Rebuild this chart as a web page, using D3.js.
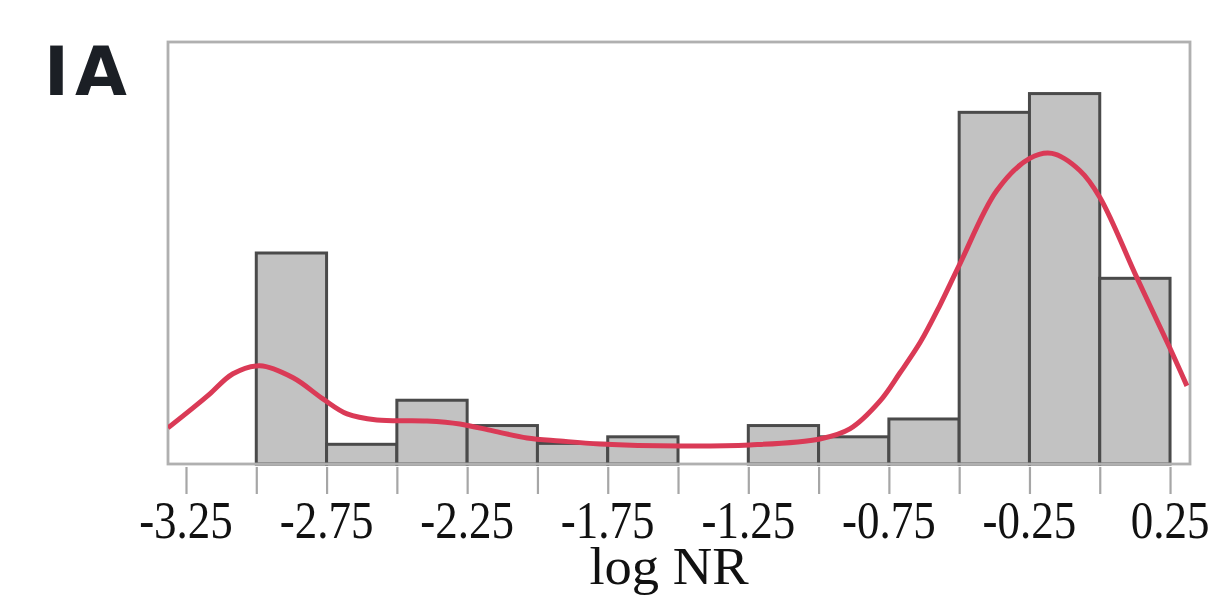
<!DOCTYPE html>
<html>
<head>
<meta charset="utf-8">
<script src="https://cdn.jsdelivr.net/npm/d3@7"></script>
<style>
  html, body { margin: 0; padding: 0; background: #fff; }
  svg { display: block; }
</style>
</head>
<body>
<svg id="chart" width="1217" height="598"></svg>
<script>
// Histogram bins (left edge of each 0.25-wide bin) and heights (relative frequency units)
const binStarts = [-3.0, -2.75, -2.5, -2.25, -2.0, -1.75, -1.5, -1.25, -1.0, -0.75, -0.5, -0.25, 0.0];
const binCounts = [22.5, 2.1, 6.8, 4.1, 2.2, 2.9, 0, 4.1, 2.9, 4.8, 37.5, 39.5, 19.8];
const binWidth = 0.25;

// Density curve (x in log NR, y in same units as bars)
const densityX = [-3.314, -3.225, -3.165, -3.083, -2.987, -2.869, -2.763, -2.677, -2.571, -2.393, -2.276, -2.158, -2.037, -1.920, -1.778, -1.493, -1.244, -0.995, -0.889, -0.782, -0.711, -0.638, -0.569, -0.497, -0.366, -0.249, -0.170, -0.071, 0.0005, 0.132, 0.249, 0.310];
const densityY = [3.85, 5.98, 7.48, 9.62, 10.47, 9.19, 6.94, 5.34, 4.70, 4.59, 4.27, 3.53, 2.78, 2.46, 2.14, 1.92, 2.03, 2.67, 3.74, 6.7, 9.7, 13.0, 16.9, 21.37, 29.17, 32.59, 33.12, 31.30, 28.42, 19.87, 12.39, 8.33];

const tickValues = [-3.25, -3.0, -2.75, -2.5, -2.25, -2.0, -1.75, -1.5, -1.25, -1.0, -0.75, -0.5, -0.25, 0.0, 0.25];
const tickLabels = ["-3.25", "-2.75", "-2.25", "-1.75", "-1.25", "-0.75", "-0.25", "0.25"];
const labelValues = [-3.25, -2.75, -2.25, -1.75, -1.25, -0.75, -0.25, 0.25];
const xTitle = "log NR";
const panelLabel = "IA";

const svg = d3.select("#chart");
const pLeft = 168, pRight = 1190, pTop = 42, pBottom = 464;

const x = d3.scaleLinear().domain([-3.314, 0.321]).range([pLeft, pRight]);
const y = d3.scaleLinear().domain([0, 45]).range([pBottom, pTop]);

// Panel label
svg.append("text")
  .attr("x", 44).attr("y", 95)
  .attr("font-family", "DejaVu Sans, sans-serif")
  .attr("font-weight", "bold")
  .attr("font-size", 67)
  .attr("letter-spacing", 6)
  .attr("fill", "#1b1f25")
  .text(panelLabel);

svg.append("clipPath").attr("id", "plotclip")
  .append("rect").attr("x", pLeft).attr("y", pTop).attr("width", pRight - pLeft).attr("height", pBottom - pTop);

// Bars
const bars = binStarts.map((s, i) => ({ x0: s, x1: s + binWidth, v: binCounts[i] })).filter(d => d.v > 0);
svg.append("g").selectAll("rect").data(bars).join("rect")
  .attr("x", d => x(d.x0))
  .attr("y", d => y(d.v))
  .attr("width", d => x(d.x1) - x(d.x0))
  .attr("height", d => y(0) - y(d.v))
  .attr("fill", "#c2c2c2")
  .attr("stroke", "#4a4a4a")
  .attr("stroke-width", 3);

// Frame
svg.append("rect")
  .attr("x", pLeft).attr("y", pTop)
  .attr("width", pRight - pLeft).attr("height", pBottom - pTop)
  .attr("fill", "none")
  .attr("stroke", "#b0b0b0")
  .attr("stroke-width", 2.8);

// Density curve
const pts = densityX.map((v, i) => [v, densityY[i]]);
svg.append("path")
  .datum(pts)
  .attr("clip-path", "url(#plotclip)")
  .attr("fill", "none")
  .attr("stroke", "#da3a56")
  .attr("stroke-width", 5)
  .attr("stroke-linejoin", "round")
  .attr("d", d3.line().x(d => x(d[0])).y(d => y(d[1])).curve(d3.curveCatmullRom.alpha(0.5)));

// Axis ticks
const axis = d3.axisBottom(x).tickValues(tickValues).tickSize(27).tickFormat("");
const gAxis = svg.append("g").attr("transform", `translate(0,${pBottom + 3})`).call(axis);
gAxis.select(".domain").remove();
gAxis.selectAll(".tick line").attr("stroke", "#a6a6a6").attr("stroke-width", 2.2);

// Tick labels (serif, slightly stretched vertically)
svg.append("g").selectAll("text").data(labelValues).join("text")
  .attr("transform", d => `translate(${x(d)},538) scale(1,1.15)`)
  .attr("text-anchor", "middle")
  .attr("font-family", "Liberation Serif, Times New Roman, serif")
  .attr("font-size", 45)
  .attr("fill", "#111")
  .text((d, i) => tickLabels[i]);

// Axis title
svg.append("text")
  .attr("transform", `translate(669,584) scale(1.05,1)`)
  .attr("text-anchor", "middle")
  .attr("font-family", "Liberation Serif, Times New Roman, serif")
  .attr("font-size", 52)
  .attr("fill", "#111")
  .text(xTitle);
</script>
</body>
</html>
